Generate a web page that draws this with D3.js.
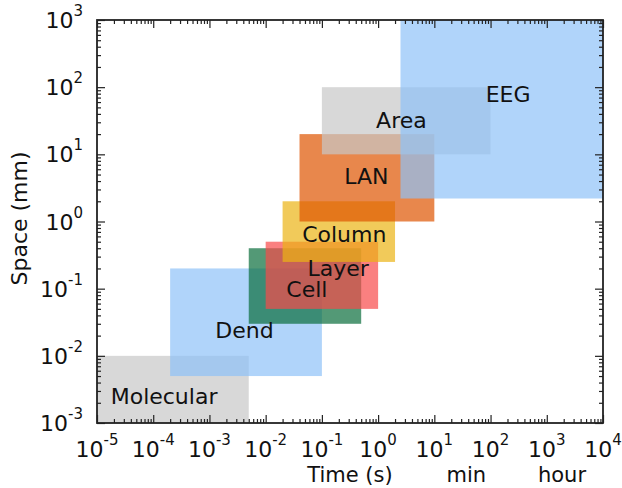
<!DOCTYPE html>
<html>
<head>
<meta charset="utf-8">
<script src="https://cdn.jsdelivr.net/npm/d3@7"></script>
<style>
  body { margin: 0; background: #fff; }
  text { font-family: "DejaVu Sans", sans-serif; fill: #111; }
</style>
</head>
<body>
<script>
// scales of brain signals, time (s) vs space (mm)
var categories = ["Molecular", "Dend", "Cell", "Layer", "Column", "LAN", "Area", "EEG"],
    timeMin  = [1e-5, 2e-4, 5e-3, 1e-2, 2e-2, 4e-2, 1e-1, 2.5],
    timeMax  = [5e-3, 1e-1, 5e-1, 1, 2, 10, 100, 1e4],
    spaceMin = [1e-3, 5e-3, 3e-2, 5e-2, 0.25, 1, 10, 2.2],
    spaceMax = [1e-2, 0.2, 0.4, 0.5, 2, 20, 100, 1e3],
    labelTime  = [1.56e-4, 4.2e-3, 0.054, 0.194, 0.25, 0.62, 2.6, 205],
    labelSpace = [2.52e-3, 0.0243, 0.10, 0.2, 0.65, 4.7, 32, 79],
    xExponents = [-5, -4, -3, -2, -1, 0, 1, 2, 3, 4],
    yExponents = [-3, -2, -1, 0, 1, 2, 3],
    unitNames  = ["min", "hour"],
    unitTimes  = [60, 3600]

var colors = ["#c8c8c8", "#8ec2f8", "#0a6e3c", "#f84a4a", "#ebb414", "#de5400", "#c8c8c8", "#8ec2f8"]

var margin = { top: 20, right: 19, bottom: 65, left: 97 },
    width = 622 - margin.left - margin.right,
    height = 488 - margin.top - margin.bottom

var x = d3.scaleLog().domain([1e-5, 1e4]).range([0, width])
var y = d3.scaleLog().domain([1e-3, 1e3]).range([height, 0])

var svg = d3.select("body").append("svg")
    .attr("width", 622)
    .attr("height", 488)
  .append("g")
    .attr("transform", "translate(" + margin.left + "," + margin.top + ")")

// boxes
var data = categories.map(function(c, i) {
  return { name: c, t0: timeMin[i], t1: timeMax[i], s0: spaceMin[i], s1: spaceMax[i],
           lt: labelTime[i], ls: labelSpace[i], color: colors[i] }
})

svg.selectAll(".box")
    .data(data)
  .enter().append("rect")
    .attr("class", "box")
    .attr("x", function(d) { return x(d.t0) })
    .attr("y", function(d) { return y(d.s1) })
    .attr("width", function(d) { return x(d.t1) - x(d.t0) })
    .attr("height", function(d) { return y(d.s0) - y(d.s1) })
    .style("fill", function(d) { return d.color })
    .style("fill-opacity", 0.7)

svg.selectAll(".boxLabel")
    .data(data)
  .enter().append("text")
    .attr("class", "boxLabel")
    .attr("x", function(d) { return x(d.lt) })
    .attr("y", function(d) { return y(d.ls) + 8 })
    .style("text-anchor", "middle")
    .style("font-size", "22px")
    .text(function(d) { return d.name })

// ticks
var majorX = xExponents.map(function(e) { return Math.pow(10, e) }),
    majorY = yExponents.map(function(e) { return Math.pow(10, e) })
function minors(majors) {
  var out = []
  majors.slice(0, -1).forEach(function(m) {
    for (var k = 2; k < 10; k++) out.push(m * k)
  })
  return out
}

function drawAxis(axisFn, scale, vals, size, transform) {
  var g = svg.append("g")
      .attr("transform", transform)
      .call(axisFn(scale).tickValues(vals).tickSize(size).tickFormat(""))
  g.select(".domain").remove()
  g.selectAll("line").attr("stroke", "#222").attr("stroke-width", 1.2)
  return g
}

;[[majorX, -8], [minors(majorX), -4]].forEach(function(p) {
  drawAxis(d3.axisBottom, x, p[0], p[1], "translate(0," + height + ")")
  drawAxis(d3.axisTop, x, p[0], p[1], "translate(0,0)")
})
;[[majorY, -8], [minors(majorY), -4]].forEach(function(p) {
  drawAxis(d3.axisLeft, y, p[0], p[1], "translate(0,0)")
  drawAxis(d3.axisRight, y, p[0], p[1], "translate(" + width + ",0)")
})

svg.append("rect")
    .attr("width", width)
    .attr("height", height)
    .style("fill", "none")
    .style("stroke", "#222")
    .style("stroke-width", 1.8)

// tick labels 10^n
function powerLabel(sel) {
  sel.append("tspan").style("font-size", "22px").text("10")
  sel.append("tspan").style("font-size", "15px").attr("dy", -12)
    .text(function(d) { return d })
}

svg.selectAll(".xLabel")
    .data(xExponents)
  .enter().append("text")
    .attr("class", "xLabel")
    .attr("x", function(d) { return x(Math.pow(10, d)) })
    .attr("y", height + 34)
    .style("text-anchor", "middle")
    .call(powerLabel)

svg.selectAll(".yLabel")
    .data(yExponents)
  .enter().append("text")
    .attr("class", "yLabel")
    .attr("x", -14)
    .attr("y", function(d) { return y(Math.pow(10, d)) + 8 })
    .style("text-anchor", "end")
    .call(powerLabel)

// axis titles
svg.append("text")
    .attr("x", width / 2)
    .attr("y", height + 59)
    .style("text-anchor", "middle")
    .style("font-size", "21px")
    .text("Time (s)")

svg.selectAll(".unit")
    .data(unitNames)
  .enter().append("text")
    .attr("class", "unit")
    .attr("x", function(d, i) { return x(unitTimes[i]) + 8 })
    .attr("y", height + 59)
    .style("text-anchor", "end")
    .style("font-size", "21px")
    .text(function(d) { return d })

svg.append("text")
    .attr("transform", "translate(" + (-70) + "," + (height / 2 - 3) + ") rotate(-90)")
    .style("text-anchor", "middle")
    .style("font-size", "22px")
    .text("Space (mm)")
</script>
</body>
</html>
